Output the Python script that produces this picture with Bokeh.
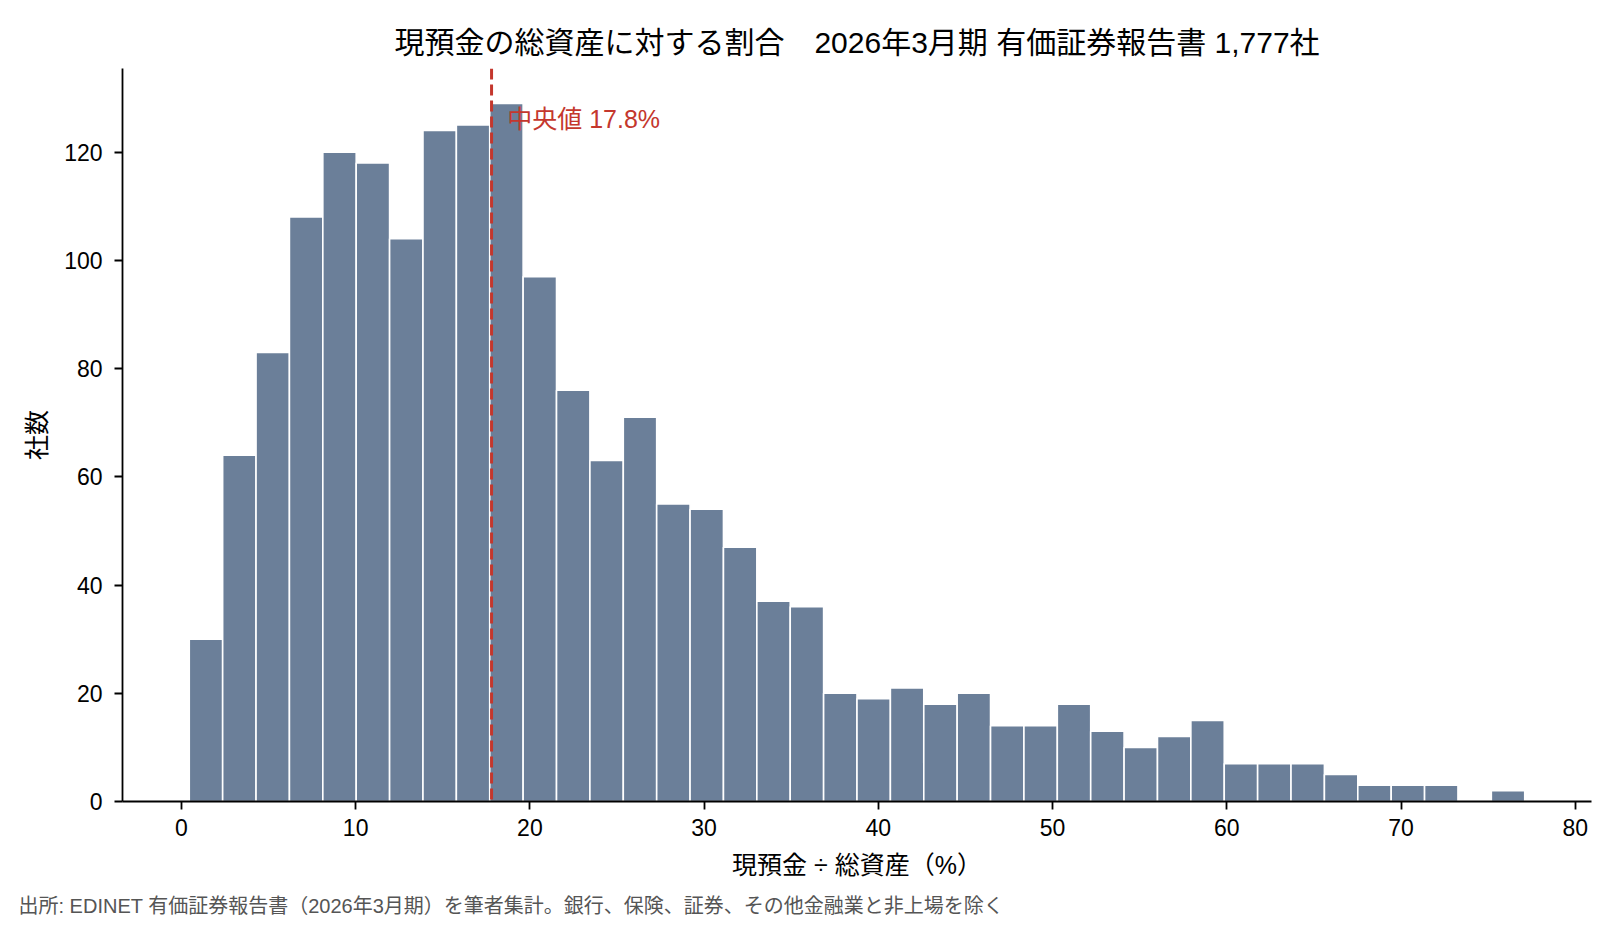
from bokeh.plotting import figure
from bokeh.models import Span, Label, ColumnDataSource, FixedTicker, Title
from bokeh.embed import file_html
from bokeh.resources import INLINE

# ---- data ----
counts = [30, 64, 83, 108, 120, 118, 104, 124, 125, 129,
          97, 76, 63, 71, 55, 54, 47, 37, 36, 20,
          19, 21, 18, 20, 14, 14, 18, 13, 10, 12,
          15, 7, 7, 7, 5, 3, 3, 3, 0, 2]
bin_lo = 0.45
bin_hi = 77.10
median = 17.8
x_ticks = [0, 10, 20, 30, 40, 50, 60, 70, 80]
y_ticks = [0, 20, 40, 60, 80, 100, 120]
title_text = "現預金の総資産に対する割合　2026年3月期 有価証券報告書 1,777社"
median_text = "中央値 17.8%"
x_label = "現預金 ÷ 総資産（%）"
y_label = "社数"
note_text = "出所: EDINET 有価証券報告書（2026年3月期）を筆者集計。銀行、保険、証券、その他金融業と非上場を除く"

n = len(counts)
w = (bin_hi - bin_lo) / n
lefts = [bin_lo + i * w for i in range(n)]
rights = [bin_lo + (i + 1) * w for i in range(n)]

FONT = "'Liberation Sans', 'Noto Sans CJK JP', sans-serif"
BAR = "#6b7f99"
RED = "#c4372d"

span = bin_hi - bin_lo
x0 = bin_lo - 0.05 * span
x1 = bin_hi + 0.05 * span
y1 = max(counts) * 1.05

W, H = 1604, 928
BL, BR, BT, BB = 122, 13, 68, 127

p = figure(width=W, height=H, x_range=(x0, x1), y_range=(0, y1),
           min_border_left=BL, min_border_right=BR, min_border_top=BT, min_border_bottom=BB,
           output_backend="svg", toolbar_location=None)
p.outline_line_color = None
p.grid.grid_line_color = None
p.background_fill_color = "white"
p.border_fill_color = "white"

src = ColumnDataSource(dict(left=lefts, right=rights, top=counts, bottom=[0] * n))
p.quad(left="left", right="right", top="top", bottom="bottom", source=src,
       fill_color=BAR, line_color="white", line_width=1.6)

p.add_layout(Span(location=median, dimension="height", line_color=RED,
                  line_width=3, line_dash="11 5"))

p.add_layout(Label(x=median + 0.9, y=max(counts) * 0.978, text=median_text,
                   text_color=RED, text_font=FONT, text_font_size="25px",
                   text_baseline="middle", text_align="left"))

for ax in (p.xaxis, p.yaxis):
    ax.axis_line_width = 1.8
    ax.axis_line_color = "black"
    ax.major_tick_line_width = 1.8
    ax.major_tick_line_color = "black"
    ax.major_tick_out = 8
    ax.major_tick_in = 0
    ax.minor_tick_line_color = None
    ax.major_label_text_font = FONT
    ax.major_label_text_font_size = "23px"
    ax.major_label_text_color = "black"
    ax.axis_label_text_font = FONT
    ax.axis_label_text_font_size = "25px"
    ax.axis_label_text_font_style = "normal"
    ax.axis_label_text_color = "black"

p.xaxis.ticker = FixedTicker(ticks=x_ticks)
p.yaxis.ticker = FixedTicker(ticks=y_ticks)
p.xaxis.major_label_standoff = 9
p.yaxis.major_label_standoff = 12
p.xaxis.axis_label = x_label
p.yaxis.axis_label = y_label
p.xaxis.axis_label_standoff = 12
p.yaxis.axis_label_standoff = 10

p.title.text = title_text
p.title.align = "center"
p.title.text_font = FONT
p.title.text_font_size = "30px"
p.title.text_font_style = "normal"
p.title.text_color = "black"
p.title.standoff = 19

p.add_layout(Title(text=note_text, align="left", offset=-104,
                   text_font=FONT, text_font_size="20px", text_font_style="normal",
                   text_color="#555555", standoff=23), "below")

open("out.html", "w").write(file_html(p, INLINE))
